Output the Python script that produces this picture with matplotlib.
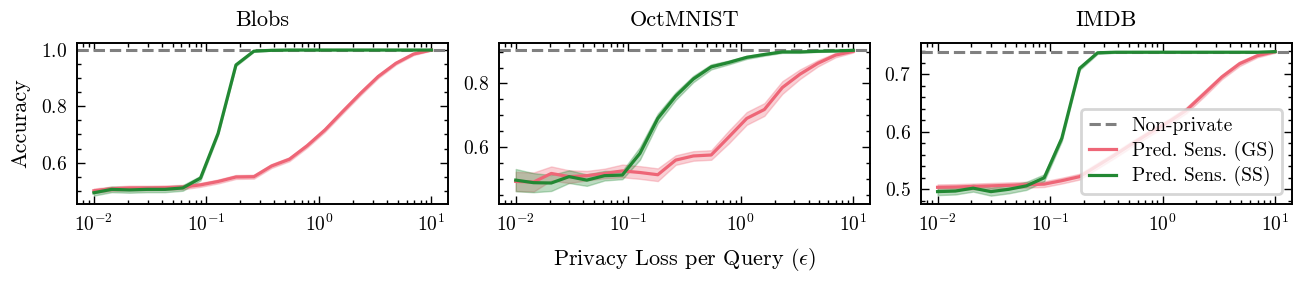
import numpy as np
import matplotlib
matplotlib.use("Agg")
import matplotlib.pyplot as plt

plt.rcParams.update({
    "font.family": "serif",
    "font.serif": ["cmr10"],
    "mathtext.fontset": "cm",
    "axes.formatter.use_mathtext": True,
    "axes.unicode_minus": False,
    "font.size": 8,
    "xtick.labelsize": 7,
    "ytick.labelsize": 7,
    "legend.fontsize": 7,
    "axes.linewidth": 0.7,
    "xtick.direction": "in",
    "ytick.direction": "in",
    "xtick.top": True,
    "ytick.right": True,
    "xtick.minor.visible": True,
    "ytick.minor.visible": True,
    "xtick.major.size": 2.8,
    "ytick.major.size": 2.8,
    "xtick.minor.size": 1.5,
    "ytick.minor.size": 1.5,
    "xtick.major.width": 0.5,
    "ytick.major.width": 0.5,
    "xtick.minor.width": 0.5,
    "ytick.minor.width": 0.5,
})

# privacy loss per query
eps = [0.01, 0.0144, 0.0207, 0.0298, 0.0428, 0.0616, 0.0886, 0.127, 0.183, 0.264,
       0.379, 0.546, 0.785, 1.13, 1.62, 2.34, 3.36, 4.83, 6.95, 10.0]

titles = ["Blobs", "OctMNIST", "IMDB"]
nonprivate = [1.0, 0.905, 0.739]

# Pred. Sens. (GS)
blobs_gs = [0.500, 0.507, 0.510, 0.510, 0.511, 0.513, 0.521, 0.533, 0.549, 0.550,
            0.588, 0.612, 0.660, 0.716, 0.781, 0.846, 0.906, 0.953, 0.986, 1.000]
blobs_gs_err = [0.008, 0.008, 0.008, 0.008, 0.008, 0.008, 0.007, 0.007, 0.007, 0.007,
                0.007, 0.007, 0.007, 0.007, 0.007, 0.007, 0.006, 0.005, 0.004, 0.002]
oct_gs = [0.492, 0.490, 0.517, 0.507, 0.510, 0.517, 0.525, 0.520, 0.513, 0.559,
          0.572, 0.575, 0.632, 0.690, 0.718, 0.787, 0.829, 0.863, 0.889, 0.901]
oct_gs_err = [0.03, 0.03, 0.022, 0.02, 0.015, 0.015, 0.02, 0.02, 0.02, 0.015,
              0.015, 0.015, 0.02, 0.02, 0.02, 0.02, 0.015, 0.01, 0.007, 0.004]
imdb_gs = [0.5035, 0.504, 0.505, 0.506, 0.507, 0.508, 0.509, 0.515, 0.522, 0.541,
           0.560, 0.580, 0.599, 0.617, 0.637, 0.666, 0.695, 0.718, 0.732, 0.739]
imdb_gs_err = [0.005, 0.005, 0.005, 0.005, 0.005, 0.005, 0.005, 0.005, 0.005, 0.005,
               0.005, 0.005, 0.005, 0.005, 0.005, 0.005, 0.004, 0.004, 0.003, 0.002]

# Pred. Sens. (SS)
blobs_ss = [0.493, 0.505, 0.503, 0.505, 0.505, 0.510, 0.545, 0.704, 0.947, 0.996,
            0.999, 1.0, 1.0, 1.0, 1.0, 1.0, 1.0, 1.0, 1.0, 1.0]
blobs_ss_err = [0.01, 0.01, 0.01, 0.01, 0.01, 0.01, 0.008, 0.006, 0.004, 0.002,
                0.001, 0.001, 0.001, 0.001, 0.001, 0.001, 0.001, 0.001, 0.001, 0.001]
oct_ss = [0.496, 0.488, 0.487, 0.507, 0.496, 0.510, 0.512, 0.580, 0.690, 0.760,
          0.814, 0.852, 0.866, 0.882, 0.891, 0.899, 0.899, 0.901, 0.902, 0.904]
oct_ss_err = [0.035, 0.03, 0.025, 0.02, 0.018, 0.015, 0.013, 0.02, 0.015, 0.012,
              0.01, 0.008, 0.006, 0.005, 0.004, 0.003, 0.003, 0.002, 0.002, 0.002]
imdb_ss = [0.496, 0.497, 0.502, 0.496, 0.500, 0.506, 0.520, 0.5885, 0.710, 0.737,
           0.738, 0.738, 0.738, 0.738, 0.738, 0.738, 0.738, 0.738, 0.738, 0.739]
imdb_ss_err = [0.006, 0.006, 0.006, 0.007, 0.007, 0.007, 0.006, 0.005, 0.003, 0.002,
               0.001, 0.001, 0.001, 0.001, 0.001, 0.001, 0.001, 0.001, 0.001, 0.001]

gs_all = [(blobs_gs, blobs_gs_err), (oct_gs, oct_gs_err), (imdb_gs, imdb_gs_err)]
ss_all = [(blobs_ss, blobs_ss_err), (oct_ss, oct_ss_err), (imdb_ss, imdb_ss_err)]
ylims = [(0.453, 1.025), (0.421, 0.927), (0.4745, 0.754)]

red = "#EE6677"
green = "#228833"

fig, axes = plt.subplots(1, 3, figsize=(6.505, 1.41), dpi=200)
fig.subplots_adjust(left=0.0592, right=0.9931, bottom=0.2766, top=0.8475, wspace=0.136)

x = np.array(eps)
for i, ax in enumerate(axes):
    ax.axhline(nonprivate[i], color="gray", ls="--", lw=1.1, label="Non-private")
    for (m, e), c, lab in [(gs_all[i], red, "Pred. Sens. (GS)"),
                           (ss_all[i], green, "Pred. Sens. (SS)")]:
        m = np.array(m)
        e = np.array(e)
        ax.plot(x, m, color=c, lw=1.15, label=lab)
        ax.fill_between(x, m - e, m + e, color=c, alpha=0.3, lw=0.5)
    ax.set_xscale("log")
    ax.set_ylim(*ylims[i])
    ax.set_title(titles[i], fontsize=8)

axes[0].set_ylabel("Accuracy")
axes[1].set_xlabel(r"Privacy Loss per Query ($\epsilon$)")
axes[2].legend(loc="lower right", handlelength=1.4, framealpha=0.8, fancybox=True,
               borderpad=0.4, labelspacing=0.3)

plt.savefig("out.png", dpi=200)
